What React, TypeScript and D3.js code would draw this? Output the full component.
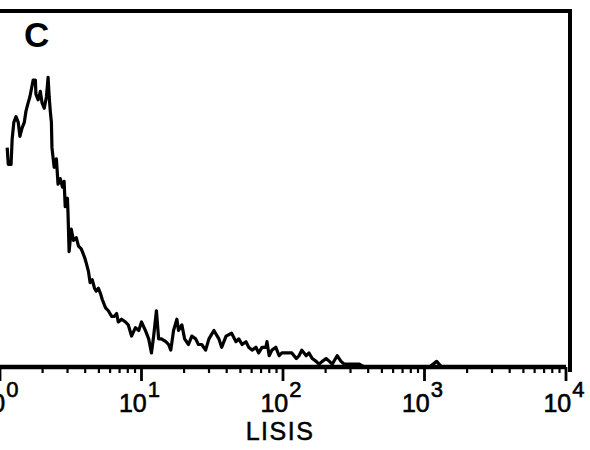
import React, { useRef, useEffect } from "react";
import * as d3 from "d3";

// 1024-channel log histogram over 4 decades (value = 10^(ch/256))
const channels = [
  13, 15, 20, 22, 25, 29, 33, 36, 40, 44, 47, 51, 54, 58, 60, 64, 65, 69, 73, 76,
  80, 84, 87, 89, 91, 93, 94, 98, 102, 105, 109, 113, 116, 118, 122, 123, 125, 129, 133, 138,
  142, 147, 153, 156, 160, 163, 167, 171, 174, 178, 182, 185, 191, 196, 202, 207, 211, 214, 220, 227,
  232, 238, 245, 251, 256, 263, 269, 274, 278, 283, 287, 292, 300, 305, 309, 314, 320, 323, 329, 334,
  341, 347, 354, 359, 365, 372, 378, 387, 396, 401, 409, 419, 427, 432, 438, 445, 450, 456, 463, 468,
  474, 481, 483, 487, 492, 499, 505, 510, 517, 523, 528, 536, 541, 546, 554, 559, 565, 572, 577, 583,
  590, 596, 601, 610, 617, 623, 632, 641, 650, 659, 677, 723, 777, 790, 799, 850, 1023,
];
const counts = [
  78, 72, 72, 81, 87, 89, 87, 82, 85, 87, 91, 94, 96, 100, 102, 102, 97, 95, 98, 94,
  92, 96, 103, 96, 91, 87, 78, 71, 74, 65, 67, 64, 66, 57, 60, 55, 41, 49, 45, 46,
  43, 42, 39, 37, 34, 30, 31, 28, 27, 28, 26, 24, 21, 20, 18, 18, 19, 16, 17, 16,
  15, 11, 14, 13, 16, 13, 10, 5, 11, 20, 10, 10, 9, 8, 6, 13, 17, 13, 15, 10,
  8, 11, 10, 8, 8, 6, 10, 13, 10, 7, 11, 12, 9, 10, 8, 9, 7, 6, 7, 5,
  7, 7, 9, 4, 6, 7, 4, 5, 5, 5, 5, 3, 4, 6, 4, 5, 3, 2, 1, 2,
  3, 2, 1, 4, 2, 1, 1, 1, 1, 0, 0, 0, 0, 2, 0, 0, 0,
];
const decades = [0, 1, 2, 3, 4];
const panelLabel = "C";
const axisTitle = "LISIS";

const App: React.FC = () => {
  const svgRef = useRef<SVGSVGElement | null>(null);

  useEffect(() => {
    const width = 590;
    const height = 450;
    const font = "'Liberation Sans', Arial, sans-serif";
    const axisY = 367;

    const svg = d3.select(svgRef.current).attr("width", width).attr("height", height);
    svg.selectAll("*").remove();
    svg.append("rect").attr("width", width).attr("height", height).attr("fill", "#fff");

    const x = d3.scaleLog().domain([1, 10000]).range([0, 566]);
    const y = d3.scaleLinear().domain([0, 128]).range([axisY, 7]);

    // frame: top and right edges
    svg.append("line").attr("x1", 0).attr("x2", 572).attr("y1", 11).attr("y2", 11)
      .attr("stroke", "#000").attr("stroke-width", 4);
    svg.append("line").attr("x1", 570).attr("x2", 570).attr("y1", 9).attr("y2", 372)
      .attr("stroke", "#000").attr("stroke-width", 4);

    // histogram trace
    const pts: [number, number][] = channels.map((c, i) => [10 ** (c / 256), counts[i]]);
    const line = d3.line<[number, number]>()
      .x((d) => x(d[0]))
      .y((d) => y(d[1]))
      .curve(d3.curveLinear);
    svg.append("path").datum(pts).attr("d", line)
      .attr("fill", "none").attr("stroke", "#000").attr("stroke-width", 3.2)
      .attr("stroke-linejoin", "round");

    // bottom axis
    const g = svg.append("g").attr("transform", `translate(0,${axisY})`);
    g.append("line").attr("x1", 0).attr("x2", x(10000)).attr("stroke", "#000").attr("stroke-width", 4.5);

    const minor: number[] = [];
    decades.slice(0, -1).forEach((p) => {
      for (let k = 2; k <= 9; k++) minor.push(k * 10 ** p);
    });
    g.selectAll("line.minor").data(minor).enter().append("line")
      .attr("class", "minor")
      .attr("x1", (d) => x(d)).attr("x2", (d) => x(d))
      .attr("y1", 0).attr("y2", 6)
      .attr("stroke", "#000").attr("stroke-width", 2.2);
    g.selectAll("line.major").data(decades).enter().append("line")
      .attr("class", "major")
      .attr("x1", (d) => x(10 ** d)).attr("x2", (d) => x(10 ** d))
      .attr("y1", 0).attr("y2", 14)
      .attr("stroke", "#000").attr("stroke-width", 2.8);

    const labels = g.selectAll("text.tick").data(decades).enter().append("text")
      .attr("class", "tick")
      .attr("x", (d) => x(10 ** d) - 2)
      .attr("y", 45)
      .attr("text-anchor", "middle")
      .attr("font-family", font)
      .attr("font-size", 25)
      .attr("stroke", "#000").attr("stroke-width", 0.6)
      .attr("fill", "#000");
    labels.append("tspan").text("10");
    labels.append("tspan").attr("dy", -15).attr("dx", 1).attr("font-size", 22).text((d) => String(d));

    svg.append("text").attr("x", 280).attr("y", 440).attr("text-anchor", "middle")
      .attr("font-family", font).attr("font-size", 25).attr("letter-spacing", 1.5)
      .attr("stroke", "#000").attr("stroke-width", 0.5)
      .attr("fill", "#000").text(axisTitle);

    svg.append("text").attr("x", 24).attr("y", 47)
      .attr("font-family", font).attr("font-size", 35).attr("font-weight", "bold")
      .attr("fill", "#000").text(panelLabel);
  }, []);

  return <svg ref={svgRef} style={{ position: "absolute", left: 0, top: 0 }}></svg>;
};

export default App;
